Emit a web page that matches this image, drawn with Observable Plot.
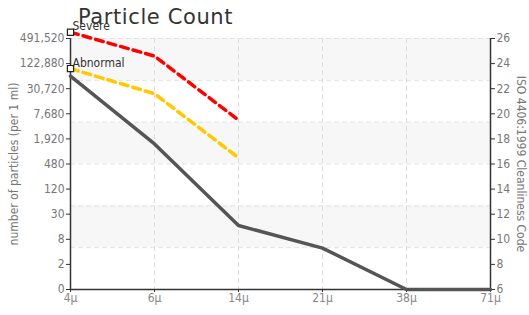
<!DOCTYPE html>
<html><head><meta charset="utf-8">
<script src="https://cdn.jsdelivr.net/npm/d3@7"></script>
<script src="https://cdn.jsdelivr.net/npm/@observablehq/plot@0.6"></script>
<style>
body{margin:0;background:#fff;}
#wrap{position:relative;width:529px;height:315px;}
#title{position:absolute;left:78px;top:7px;font-family:"DejaVu Sans",sans-serif;font-size:21px;line-height:1;letter-spacing:0.6px;color:#333;z-index:0;}
svg{font-family:"DejaVu Sans Condensed","Liberation Sans Narrow",sans-serif;}
</style></head>
<body>
<div id="wrap"><div id="title">Particle Count</div></div>
<script>
const sizes = ["4μ","6μ","14μ","21μ","38μ","71μ"];
const actualCode = [23.0, 17.6, 11.1, 9.3, 6, 6];
const severeSizes = ["4μ","6μ","14μ"];
const severeCode = [26.5, 24.6, 19.5];
const abnormalCode = [23.6, 21.6, 16.5];
const codeTicks = [6,8,10,12,14,16,18,20,22,24,26];
const countLabels = ["0","2","8","30","120","480","1,920","7,680","30,720","122,880","491,520"];
const bandEdges = [6, 9.333, 12.667, 16, 19.333, 22.667, 26];
const shadedBands = [[9.333,12.667],[16,19.333],[22.667,26]];

const actual = sizes.map((s,i)=>({size:s, code:actualCode[i]}));
const severe = severeSizes.map((s,i)=>({size:s, code:severeCode[i]}));
const abnormal = severeSizes.map((s,i)=>({size:s, code:abnormalCode[i]}));
const bands = shadedBands.map(([lo,hi])=>({lo,hi}));
const markers = [
  {size:sizes[0], code:severeCode[0], label:"Severe"},
  {size:sizes[0], code:abnormalCode[0], label:"Abnormal"}
];
const fontFam = '"DejaVu Sans Condensed","Liberation Sans Narrow",sans-serif';

const chart = Plot.plot({
  width:529, height:315,
  marginLeft:70, marginRight:39, marginTop:38, marginBottom:26,
  style:{fontFamily:fontFam, fontSize:"12px", color:"#666", background:"transparent"},
  x:{type:"point", domain:sizes, padding:0},
  y:{domain:[6,26]},
  marks:[
    Plot.rect(bands, {y1:"lo", y2:"hi", fill:"#f7f7f7"}),
    Plot.ruleY(bandEdges.slice(1), {stroke:"#e2e2e2", strokeDasharray:"5,3"}),
    Plot.ruleX(sizes.slice(1,-1), {stroke:"#dddddd", strokeDasharray:"5,3"}),
    Plot.axisY({anchor:"left", ticks:codeTicks, tickSize:4, tickPadding:2, label:null,
      tickFormat:d=>countLabels[codeTicks.indexOf(d)], stroke:"#333", fill:"#777", fontSize:12}),
    Plot.axisY({anchor:"right", ticks:codeTicks, tickSize:4, tickPadding:2, label:null,
      stroke:"#333", fill:"#777", fontSize:12}),
    Plot.axisX({anchor:"bottom", tickSize:3, tickPadding:1, label:null, stroke:"#333", fill:"#888", fontSize:12}),
    Plot.ruleX([sizes[0], sizes[sizes.length-1]], {stroke:"#333", strokeWidth:1.5}),
    Plot.ruleY([6], {stroke:"#333", strokeWidth:1.5}),
    Plot.line(actual, {x:"size", y:"code", stroke:"#555", strokeWidth:3.5}),
    Plot.line(abnormal, {x:"size", y:"code", stroke:"#ffc800", strokeWidth:3.5, strokeDasharray:"8,5"}),
    Plot.line(severe, {x:"size", y:"code", stroke:"#ff0000", strokeWidth:3.5, strokeDasharray:"8,5"}),
    Plot.dot(markers, {x:"size", y:"code", symbol:"square", r:3.5, fill:"white", stroke:"#222", strokeWidth:1.2}),
    Plot.text(markers, {x:"size", y:"code", text:"label", textAnchor:"start", lineAnchor:"bottom", dx:2, dy:-2, fill:"#333", fontSize:12}),
    Plot.text(["number of particles (per 1 ml)"], {frameAnchor:"left", textAnchor:"middle", dx:-56, rotate:-90, fill:"#777", fontSize:12}),
    Plot.text(["ISO 4406:1999 Cleanliness Code"], {frameAnchor:"right", textAnchor:"middle", dx:30, rotate:90, fill:"#777", fontSize:12})
  ]
});
const wrap = document.getElementById("wrap");
chart.style.position="absolute"; chart.style.left="0"; chart.style.top="0";
wrap.appendChild(chart);
</script>
</body></html>
